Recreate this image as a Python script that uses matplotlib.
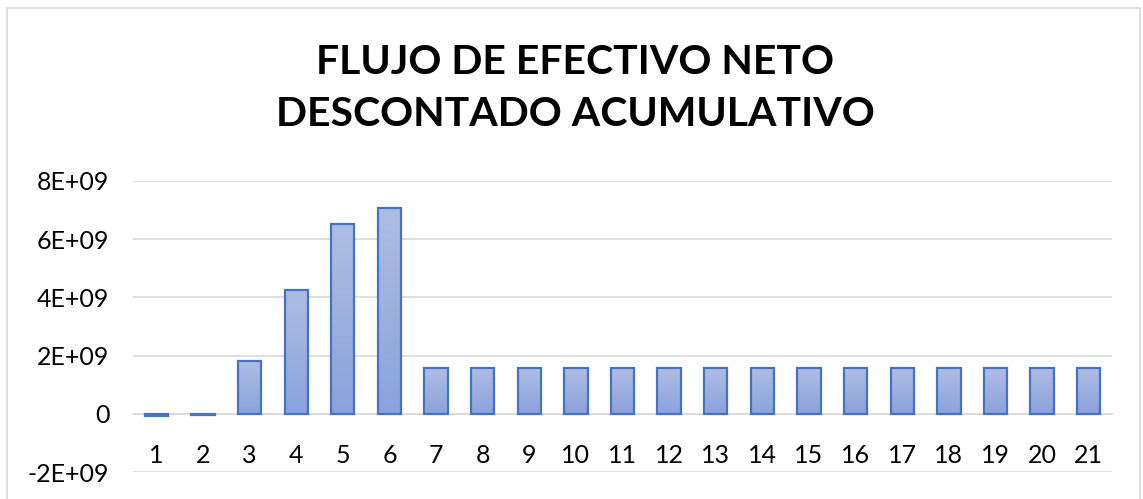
import numpy as np
import matplotlib
matplotlib.use('Agg')
import matplotlib.pyplot as plt
from matplotlib.patches import Rectangle
from matplotlib.ticker import FixedLocator

periodos = list(range(1, 22))
flujo_acumulado = [-0.09e9, -0.05e9, 1.80e9, 4.27e9, 6.53e9, 7.08e9,
                   1.57e9, 1.57e9, 1.57e9, 1.57e9, 1.57e9, 1.57e9, 1.57e9,
                   1.57e9, 1.57e9, 1.57e9, 1.57e9, 1.57e9, 1.57e9, 1.57e9, 1.57e9]
y_ticks = [-2e9, 0, 2e9, 4e9, 6e9, 8e9]
y_labels = ['-2E+09', '0', '2E+09', '4E+09', '6E+09', '8E+09']
titulo = 'FLUJO DE EFECTIVO NETO\nDESCONTADO ACUMULATIVO'

plt.rcParams['font.family'] = ['Lato', 'DejaVu Sans']

fig = plt.figure(figsize=(11.43, 4.99), dpi=100)
ax = fig.add_axes([0.1164, 0.0541, 0.9729 - 0.1164, 0.6373 - 0.0541])

# borde del area del grafico
fig.patches.append(Rectangle((7 / 1143, -0.01), 1133 / 1143, 1 - 8 / 499 + 0.01,
                             transform=fig.transFigure, fill=False,
                             edgecolor='#D9D9D9', linewidth=1.2))

bars = ax.bar(periodos, flujo_acumulado, width=0.5, color='none',
              edgecolor='#4472C4', linewidth=1.6, zorder=3)

# relleno degradado tipo Excel
grad = np.linspace(0, 1, 256).reshape(-1, 1)
cmap = matplotlib.colors.LinearSegmentedColormap.from_list('g', ['#AFBDE3', '#8AA2DB'])
for b in bars:
    x0, y0 = b.get_x(), b.get_y()
    w, h = b.get_width(), b.get_height()
    ylo, yhi = min(y0, y0 + h), max(y0, y0 + h)
    im = ax.imshow(grad, cmap=cmap, aspect='auto', extent=[x0, x0 + w, ylo, yhi],
                   origin='upper', zorder=2)
    im.set_clip_path(b)

ax.set_xlim(0.5, 21.5)
ax.set_ylim(-2e9, 8e9)
ax.yaxis.set_major_locator(FixedLocator(y_ticks))
ax.set_yticklabels(y_labels)
ax.set_xticks(periodos)
ax.set_xticklabels([str(p) for p in periodos])

ax.grid(axis='y', color='#D9D9D9', linewidth=1.2, zorder=0)
for s in ['top', 'right', 'left']:
    ax.spines[s].set_visible(False)
ax.spines['bottom'].set_position(('data', 0))
ax.spines['bottom'].set_color('#D9D9D9')
ax.spines['bottom'].set_linewidth(1.2)
ax.tick_params(axis='both', length=0, labelsize=18, colors='black')
ax.tick_params(axis='y', pad=17)
ax.tick_params(axis='x', pad=22)

fig.text(0.503, 0.8226, titulo, ha='center', va='center', fontsize=29.5,
         fontweight='bold', linespacing=1.5)

fig.savefig('out.png', dpi=100)
